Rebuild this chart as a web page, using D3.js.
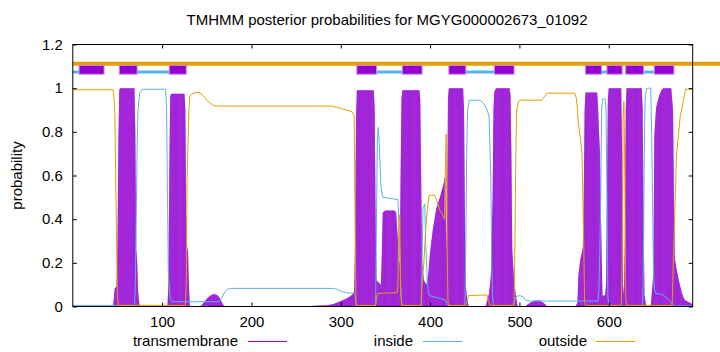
<!DOCTYPE html>
<html>
<head>
<meta charset="utf-8">
<script src="https://cdn.jsdelivr.net/npm/d3@7"></script>
<style>
  body { margin: 0; background: #fff; }
  text { font-family: "Liberation Sans", Arial, sans-serif; }
</style>
</head>
<body>
<div id="chart"></div>
<script>
const seqLength = 694
const titleText = "TMHMM posterior probabilities for MGYG000002673_01092"
const xTicks = [100, 200, 300, 400, 500, 600]
const yTicks = [0, 0.2, 0.4, 0.6, 0.8, 1, 1.2]
const seriesNames = ["transmembrane", "inside", "outside"]

// posterior probabilities, [residue, probability]
const tmProb = [
  [0,0],[45,0],[46,0.04],[47,0.085],[49,0.09],[50,0.28],[51,0.75],[52,0.99],[53,1],[69,1],[70,0.8],[71,0.26],[72,0.22],[73,0.075],[74,0.03],[75,0],
  [106,0],[107,0.1],[108,0.6],[109,0.96],[110,0.975],[125,0.975],[126,0.9],[127,0.4],[128,0.27],[129,0.25],[130,0.1],[131,0],
  [143,0],[146,0.015],[150,0.035],[154,0.05],[158,0.057],[162,0.052],[165,0.035],[168,0.01],[170,0],
  [262,0],[270,0.004],[285,0.006],[292,0.012],[298,0.022],[304,0.032],[309,0.042],[313,0.055],[315,0.07],[316,0.3],[317,0.85],[318,0.99],
  [337,0.99],[338,0.9],[339,0.4],[340,0.12],[345,0.1],[346,0.25],[347,0.43],[350,0.44],[360,0.44],[362,0.43],[364,0.3],[365,0.2],[366,0.2],
  [367,0.6],[368,0.95],[369,0.99],[388,0.99],[389,0.95],[390,0.6],[391,0.2],[393,0.12],[396,0.1],[398,0.15],[400,0.25],[403,0.35],[407,0.45],
  [411,0.5],[415,0.56],[417,0.6],[418,0.25],[419,0.4],[420,0.95],[421,1],[437,1],[438,0.9],[439,0.4],[440,0.1],[441,0.05],[443,0],
  [462,0],[464,0.03],[466,0.06],[468,0.14],[470,0.5],[471,0.9],[472,0.985],[474,1],[489,1],[490,0.97],[491,0.7],[492,0.26],[494,0.12],[496,0.05],[498,0],
  [506,0],[510,0.012],[514,0.022],[518,0.027],[522,0.027],[526,0.02],[529,0.01],[531,0],
  [563,0],[565,0.02],[566,0.14],[568,0.21],[571,0.27],[572,0.5],[573,0.9],[574,0.98],[587,0.98],[588,0.915],[589,0.81],[590,0.72],[591,0.5],[592,0.25],[593,0.05],
  [596,0.05],[597,0.1],[598,0.5],[599,0.95],[600,1],[614,1],[615,0.7],[616,0.1],[617,0.05],[618,0.3],[619,0.9],[620,1],[637,1],[638,0.9],[639,0.4],[640,0.05],[642,0],
  [647,0],[649,0.1],[650,0.15],[651,0.78],[653,0.91],[656,0.96],[659,0.99],[661,1],[670,1],[672,0.9],[673,0.5],[674,0.22],[676,0.17],[679,0.11],[682,0.06],[685,0.03],[694,0.01]
]
const insideProb = [
  [0,0.005],[69,0.005],[70,0.1],[71,0.4],[72,0.72],[73,0.9],[75,0.98],[78,0.995],[104,0.995],[105,0.9],[106,0.5],[107,0.15],[109,0.04],[111,0.022],
  [164,0.022],[167,0.04],[170,0.065],[173,0.078],[177,0.083],[290,0.083],[295,0.08],[300,0.07],[306,0.063],[316,0.06],[317,0.02],[318,0.002],
  [339,0.002],[340,0.4],[341,0.78],[342,0.82],[343,0.75],[345,0.55],[347,0.5],[364,0.49],[365,0.4],[367,0.1],[368,0.02],[369,0.002],
  [390,0.002],[391,0.2],[392,0.45],[394,0.47],[395,0.3],[397,0.1],[399,0.05],[417,0.03],[419,0.01],[421,0.002],
  [439,0.002],[440,0.3],[441,0.7],[442,0.9],[444,0.945],[456,0.945],[460,0.93],[464,0.9],[466,0.87],[468,0.6],[469,0.2],[470,0.05],[471,0.002],
  [493,0.002],[494,0.02],[496,0.045],[500,0.05],[504,0.045],[507,0.03],[510,0.025],[588,0.025],[589,0.08],[590,0.25],[591,0.5],[592,0.9],[593,0.95],
  [596,0.95],[597,0.9],[598,0.5],[599,0.05],[600,0.002],[638,0.002],[639,0.3],[640,0.8],[641,0.97],[643,1],[647,1],[648,0.8],[649,0.5],[650,0.2],
  [651,0.08],[653,0.06],[660,0.055],[665,0.04],[669,0.02],[672,0.003],[694,0.003]
]
const outsideProb = [
  [0,0.993],[45,0.993],[46,0.96],[47,0.9],[48,0.6],[49,0.3],[50,0.05],[51,0.005],[126,0.005],[127,0.1],[128,0.6],[129,0.75],[130,0.9],[131,0.965],
  [134,0.975],[138,0.98],[142,0.98],[146,0.965],[150,0.945],[154,0.93],[158,0.92],[162,0.918],[290,0.918],[296,0.912],[302,0.905],[308,0.898],
  [313,0.89],[315,0.87],[316,0.4],[317,0.005],[339,0.005],[340,0.03],[341,0.06],[363,0.063],[364,0.1],[365,0.4],[366,0.42],[367,0.1],[368,0.005],
  [390,0.005],[391,0.1],[393,0.2],[395,0.35],[397,0.45],[399,0.51],[405,0.51],[408,0.48],[411,0.44],[414,0.42],[416,0.4],[417,0.6],[418,0.79],
  [419,0.3],[420,0.02],[421,0.005],[440,0.005],[441,0.02],[443,0.05],[464,0.053],[465,0.03],[467,0.005],[494,0.005],[495,0.3],[496,0.7],[497,0.9],
  [499,0.94],[501,0.945],[525,0.945],[528,0.96],[531,0.977],[562,0.977],[564,0.95],[566,0.84],[568,0.78],[570,0.7],[572,0.3],[573,0.02],[574,0.005],
  [614,0.005],[615,0.2],[616,0.85],[617,0.94],[618,0.6],[619,0.05],[620,0.005],[671,0.005],[673,0.3],[676,0.7],[680,0.87],[683,0.93],[686,0.995],[694,0.995]
]

// predicted topology drawn above the curves
const tmSegments = [[7,35],[52,72],[108,127],[318,340],[369,391],[421,440],[472,494],[574,592],[598,615],[619,639],[651,673]]
const insideSegments = [[0,11],[72,108],[340,369],[440,472],[592,598],[639,651]]
const outsideSegments = [[0,725]]
const topoLevels = {tm: 1.084, inside: 1.074, outside: 1.112}

const WIDTH = 720
const HEIGHT = 352
const margin = {top: 44.5, right: 27.3, bottom: 45.5, left: 72.8}
const colors = {tm: "#9400d3", inside: "#56b4e9", outside: "#e69f00"}
const fontSize = "15px"

const svg = d3.select("#chart").append("svg")
  .attr("width", WIDTH)
  .attr("height", HEIGHT)
  .style("display", "block")

const x = d3.scaleLinear().domain([0, seqLength]).range([margin.left, WIDTH - margin.right])
const y = d3.scaleLinear().domain([0, 1.2]).range([HEIGHT - margin.bottom, margin.top])

// title and axis label
svg.append("text")
  .attr("x", 387).attr("y", 25)
  .attr("text-anchor", "middle")
  .style("font-size", fontSize)
  .text(titleText)

svg.append("text")
  .attr("transform", `translate(22,${(y(0) + y(1.2)) / 2}) rotate(-90)`)
  .attr("text-anchor", "middle")
  .style("font-size", fontSize)
  .text("probability")

// transmembrane posterior: impulses, one per residue
const tmArea = d3.area()
  .x(d => x(d[0]))
  .y0(y(0))
  .y1(d => y(d[1]))

svg.append("clipPath").attr("id", "tm-clip")
  .append("path").attr("d", tmArea(tmProb))

svg.append("path")
  .attr("d", tmArea(tmProb))
  .attr("fill", "#b04ce0")

svg.append("g")
  .attr("clip-path", "url(#tm-clip)")
  .selectAll("line")
  .data(d3.range(0, seqLength + 1))
  .enter().append("line")
  .attr("x1", d => x(d)).attr("x2", d => x(d))
  .attr("y1", y(0)).attr("y2", y(1.2))
  .attr("stroke", colors.tm)
  .attr("stroke-width", 0.5)

const line = d3.line().x(d => x(d[0])).y(d => y(d[1]))

svg.append("path")
  .attr("d", line(insideProb))
  .attr("fill", "none")
  .attr("stroke", colors.inside)
  .attr("stroke-width", 1)

svg.append("path")
  .attr("d", line(outsideProb))
  .attr("fill", "none")
  .attr("stroke", colors.outside)
  .attr("stroke-width", 1)

// topology bars
svg.selectAll(".outside-seg")
  .data(outsideSegments)
  .enter().append("line")
  .attr("x1", d => x(d[0])).attr("x2", d => x(d[1]))
  .attr("y1", y(topoLevels.outside)).attr("y2", y(topoLevels.outside))
  .attr("stroke", colors.outside)
  .attr("stroke-width", 4)

svg.selectAll(".inside-seg")
  .data(insideSegments)
  .enter().append("line")
  .attr("x1", d => x(d[0])).attr("x2", d => x(d[1]))
  .attr("y1", y(topoLevels.inside)).attr("y2", y(topoLevels.inside))
  .attr("stroke", colors.inside)
  .attr("stroke-width", 3)

svg.selectAll(".tm-seg")
  .data(tmSegments)
  .enter().append("rect")
  .attr("x", d => x(d[0]))
  .attr("width", d => x(d[1]) - x(d[0]))
  .attr("y", y(topoLevels.tm + 0.02))
  .attr("height", y(topoLevels.tm - 0.02) - y(topoLevels.tm + 0.02))
  .attr("fill", colors.tm)
  .attr("stroke", "#c58ae8")
  .attr("stroke-width", 1)

// axes, ticks pointing inward on all four sides
const axisFont = g => g.selectAll("text").style("font-size", fontSize).attr("fill", "#000")

svg.append("g")
  .attr("transform", `translate(0,${y(0)})`)
  .call(d3.axisBottom(x).tickValues(xTicks).tickSize(-4).tickPadding(10))
  .call(g => g.select(".domain").remove())
  .call(axisFont)

svg.append("g")
  .attr("transform", `translate(0,${y(1.2)})`)
  .call(d3.axisTop(x).tickValues(xTicks).tickSize(-4).tickFormat(""))
  .call(g => g.select(".domain").remove())

svg.append("g")
  .attr("transform", `translate(${x(0)},0)`)
  .call(d3.axisLeft(y).tickValues(yTicks).tickSize(-4).tickPadding(10).tickFormat(d => String(d)))
  .call(g => g.select(".domain").remove())
  .call(axisFont)

svg.append("g")
  .attr("transform", `translate(${x(seqLength)},0)`)
  .call(d3.axisRight(y).tickValues(yTicks).tickSize(-4).tickFormat(""))
  .call(g => g.select(".domain").remove())

svg.append("rect")
  .attr("x", x(0)).attr("y", y(1.2))
  .attr("width", x(seqLength) - x(0))
  .attr("height", y(0) - y(1.2))
  .attr("fill", "none")
  .attr("stroke", "#000")
  .attr("stroke-width", 1)

// legend along the bottom
const legendItems = [
  {name: seriesNames[0], color: colors.tm, textEnd: 238, lineStart: 248},
  {name: seriesNames[1], color: colors.inside, textEnd: 413, lineStart: 423},
  {name: seriesNames[2], color: colors.outside, textEnd: 587, lineStart: 596}
]
const legend = svg.selectAll(".legend")
  .data(legendItems)
  .enter().append("g")

legend.append("text")
  .attr("x", d => d.textEnd).attr("y", 346)
  .attr("text-anchor", "end")
  .style("font-size", fontSize)
  .text(d => d.name)

legend.append("line")
  .attr("x1", d => d.lineStart).attr("x2", d => d.lineStart + 39)
  .attr("y1", 341.5).attr("y2", 341.5)
  .attr("stroke", d => d.color)
  .attr("stroke-width", 1)
</script>
</body>
</html>
